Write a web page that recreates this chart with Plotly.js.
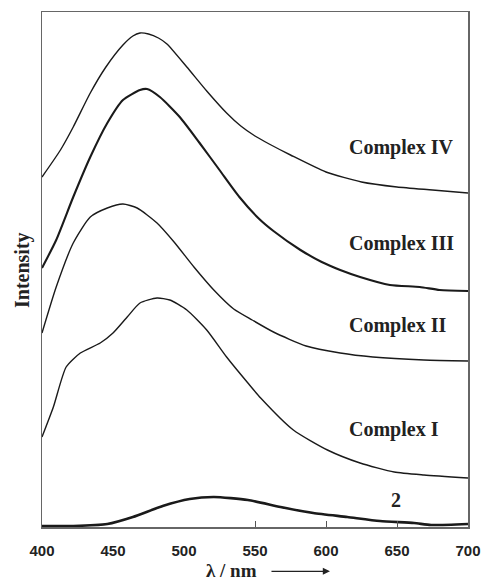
<!DOCTYPE html>
<html>
<head>
<meta charset="utf-8">
<script src="https://cdn.plot.ly/plotly-3.0.1.min.js"></script>
<style>html,body{margin:0;padding:0;background:#fff;}#chart{width:483px;height:582px;}</style>
</head>
<body>
<div id="chart"></div>
<script>
// Wavelengths (nm) and relative intensities (arbitrary units, offset curves)
const wlIV  = [400,413,422,434,445,457,464,469,475,482,488,502,516,530,540,550,560,575,600,625,650,675,700];
const intIV = [350,377,400,434,460,482,491,494,493,489,483,460,436,414,401,391,383,372,355,345,340,337,334];

const wlIII  = [400,410,422,434,446,457,469,474,483,497,511,525,539,553,563,582,597,610,624,645,666,680,700];
const intIII = [259,287,330,370,404,427,437,438,430,410,384,357,330,308,296,277,265,257,250,242,240,237,236];

const wlII  = [400,410,422,434,446,457,467,481,493,507,521,535,548,563,586,610,633,669,700];
const intII = [194,240,284,310,319,323,319,304,285,260,237,218,207,195,181,174,170,167,166];

const wlI  = [400,408,417,427,441,450,460,469,481,490,502,516,530,545,554,577,601,624,648,669,700];
const intI = [90,120,160,174,184,194,210,224,229,227,217,197,170,144,129,97,77,64,55,52,49];

const wl2  = [400,422,446,464,485,504,521,545,568,591,615,638,662,674,700];
const int2 = [1,1,3,10,21,28,30,27,20,14,10,6,4,2,3];

const xTicks = [400,450,500,550,600,650,700];
const innerTicks = [550,600,650];
const labels = ['Complex IV','Complex III','Complex II','Complex I','2'];
const labelX = [615,615,615,615,649];
const labelY = [380,284,202,98,27];

const lineColor = '#1a1a1a';
function tr(x,y,w,xa){
  return {x:x,y:y,type:'scatter',mode:'lines',xaxis:xa||'x',yaxis:'y',
    line:{color:lineColor,width:w,shape:'spline',smoothing:0.6},hoverinfo:'skip',showlegend:false};
}
const data = [
  tr(wlIV,intIV,1.4),
  tr(wlIII,intIII,2.1),
  tr(wlII,intII,1.4),
  tr(wlI,intI,1.4),
  tr(wl2,int2,2.6,'x2')
];

const serif = 'Liberation Serif, Times New Roman, serif';
const annotations = labels.map((t,i)=>({
  x:labelX[i], y:labelY[i], xref:'x', yref:'y', text:'<b>'+t+'</b>', showarrow:false,
  xanchor: i===4 ? 'center' : 'left', yanchor:'middle',
  font:{family:serif, size:20, color:'#222'}
}));
annotations.push({
  x:-0.047, y:0.499, xref:'paper', yref:'paper', text:'<b>Intensity</b>', textangle:-90,
  xanchor:'center', yanchor:'middle',
  showarrow:false, font:{family:serif, size:20, color:'#222'}
});
annotations.push({
  x:0.446, y:-0.084, xref:'paper', yref:'paper', text:'<b>λ / nm</b>',
  showarrow:false, xanchor:'center', yanchor:'middle',
  font:{family:serif, size:19, color:'#222'}
});
annotations.push({
  x:0.676, y:-0.086, xref:'paper', yref:'paper', text:'', showarrow:true,
  ax:-60, ay:0, arrowhead:2, arrowsize:1.1, arrowwidth:1.3, arrowcolor:'#222'
});

const layout = {
  width:483, height:582,
  margin:{l:42, r:15, t:12, b:55, pad:0},
  paper_bgcolor:'#fff', plot_bgcolor:'#fff',
  xaxis:{range:[400,700], tickvals:xTicks, ticktext:xTicks.map(String), ticks:'',
    ticklabelstandoff:9,
    showgrid:false, zeroline:false, showline:true, mirror:true, linecolor:'#666', linewidth:1.5,
    tickfont:{family:'Liberation Sans, Arial, sans-serif', size:15, color:'#222', weight:'bold'}},
  xaxis2:{range:[400,700], overlaying:'x', anchor:'y', side:'bottom', tickvals:innerTicks, ticks:'inside',
    ticklen:6, tickcolor:'#555', tickwidth:1, showticklabels:false, showgrid:false, zeroline:false, showline:false},
  yaxis:{range:[0,515], showticklabels:false, ticks:'', showgrid:false, zeroline:false,
    showline:true, mirror:true, linecolor:'#666', linewidth:1.5},
  annotations:annotations,
  showlegend:false
};
Plotly.newPlot('chart', data, layout, {staticPlot:true, displayModeBar:false});
</script>
</body>
</html>
